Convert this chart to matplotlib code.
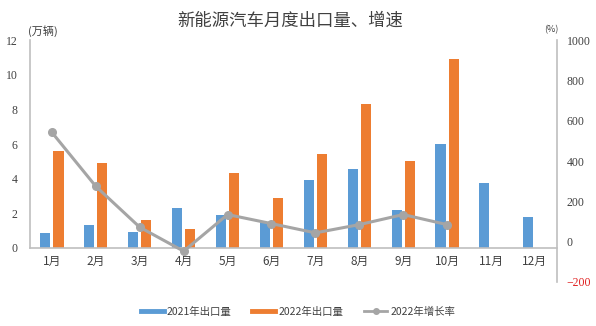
import matplotlib
matplotlib.use("Agg")
import matplotlib.pyplot as plt
from matplotlib.lines import Line2D
import numpy as np

plt.rcParams['font.family'] = ['Noto Sans CJK SC', 'DejaVu Sans']

months = ["1月", "2月", "3月", "4月", "5月", "6月", "7月", "8月", "9月", "10月", "11月", "12月"]
export_2021 = [0.87, 1.30, 0.93, 2.32, 1.88, 1.51, 3.92, 4.54, 2.17, 6.01, 3.73, 1.78]
export_2022 = [5.57, 4.89, 1.62, 1.10, 4.35, 2.86, 5.41, 8.29, 4.99, 10.90]
growth_2022 = [543, 275, 72, -47, 135, 90, 44, 85, 135, 85]

left_ticks = [0, 2, 4, 6, 8, 10, 12]
right_ticks = [-200, 0, 200, 400, 600, 800, 1000]

BLUE = "#5b9bd5"
ORANGE = "#ed7d31"
GRAY = "#a5a5a5"
TXT = "#404040"
AXC = "#bfbfbf"
TICKFONT = ['Liberation Serif', 'Noto Sans CJK SC']

fig = plt.figure(figsize=(5.96, 3.26), dpi=100)
ax = fig.add_axes([0.0503, 0.135, 0.884, 0.741])

x = np.arange(len(months))
w = 0.23
off = 0.15
ax.bar(x - off, export_2021, width=w, color=BLUE, zorder=2)
ax.bar(x[:len(export_2022)] + off, export_2022, width=w, color=ORANGE, zorder=2)

ax.set_xlim(-0.5, len(months) - 0.5)
ax.set_ylim(-1.99, 12.0)
ax.set_yticks(left_ticks)
ax.set_xticks(x)
ax.set_xticklabels(months)
ax.tick_params(axis='both', length=0, labelsize=8.5, colors=TXT)
ax.tick_params(axis='x', pad=5)
ax.tick_params(axis='y', pad=9)
for lbl in ax.get_xticklabels() + ax.get_yticklabels():
    lbl.set_family(TICKFONT)
for s in ['top', 'right']:
    ax.spines[s].set_visible(False)
ax.spines['bottom'].set_position(('data', 0))
ax.spines['bottom'].set_color(AXC)
ax.spines['bottom'].set_linewidth(1.2)
ax.spines['left'].set_bounds(0, 12)
ax.spines['left'].set_color(AXC)
ax.spines['left'].set_linewidth(1.2)
ax.patch.set_visible(False)

ax2 = ax.twinx()
ax2.plot(x[:len(growth_2022)], growth_2022, color=GRAY, lw=2.2, marker='o', ms=5.5, zorder=3)
ax2.set_ylim(-200, 1000)
ax2.set_yticks(right_ticks)
ax2.tick_params(axis='y', length=0, labelsize=8.5, colors=TXT, pad=7)
for lbl, v in zip(ax2.get_yticklabels(), right_ticks):
    lbl.set_family(TICKFONT)
    if v < 0:
        lbl.set_color("#e02020")
for s in ['top', 'left', 'bottom']:
    ax2.spines[s].set_visible(False)
ax2.spines['right'].set_color(AXC)
ax2.spines['right'].set_linewidth(1.2)

fig.text(0.487, 0.935, "新能源汽车月度出口量、增速", ha='center', va='center', fontsize=12.5, color=TXT)
fig.text(0.047, 0.905, "(万辆)", ha='left', va='center', fontsize=8, color=TXT)
fig.text(0.925, 0.908, "(%)", ha='center', va='center', fontsize=6.5, color=TXT)

handles = [
    Line2D([0], [0], color=BLUE, lw=3.5),
    Line2D([0], [0], color=ORANGE, lw=3.5),
    Line2D([0], [0], color=GRAY, lw=2, marker='o', ms=4),
]
labels = ["2021年出口量", "2022年出口量", "2022年增长率"]
fig.legend(handles, labels, loc='center', bbox_to_anchor=(0.5, 0.043), ncol=3, frameon=False,
           fontsize=7.5, handlelength=2.2, columnspacing=2.0, handletextpad=0.3,
           labelcolor=TXT)

fig.savefig("out.png", dpi=100, facecolor='white')
